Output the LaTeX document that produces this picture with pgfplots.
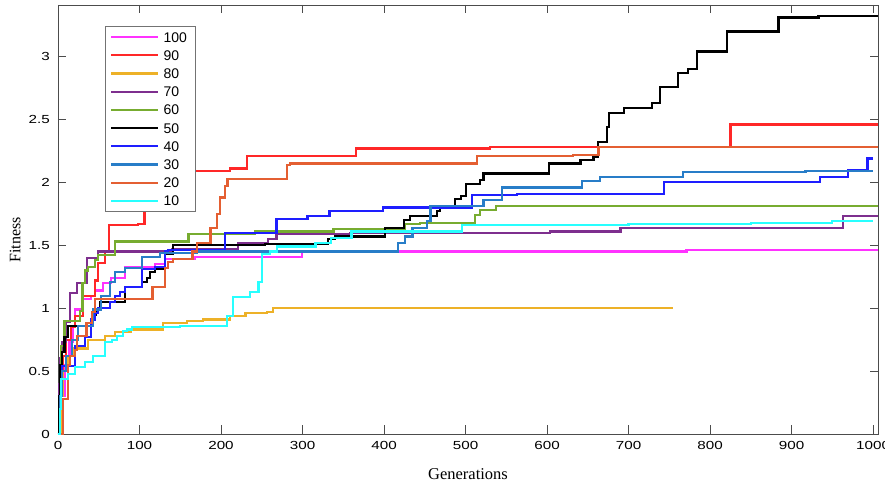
\documentclass[border=0pt]{standalone}
\usepackage{fontspec}
\usepackage{pgfplots}
\pgfplotsset{compat=1.18}
\setmainfont{Liberation Serif}
\newfontfamily\ticksans[FakeStretch=1.3]{Liberation Sans}
\newfontfamily\legsans{Liberation Sans}
\definecolor{c100}{RGB}{255,50,255}
\definecolor{c90}{RGB}{255,40,40}
\definecolor{c80}{RGB}{237,177,40}
\definecolor{c70}{RGB}{126,47,142}
\definecolor{c60}{RGB}{119,172,48}
\definecolor{c50}{RGB}{0,0,0}
\definecolor{c40}{RGB}{30,30,255}
\definecolor{c30}{RGB}{40,125,200}
\definecolor{c20}{RGB}{228,95,50}
\definecolor{c10}{RGB}{40,255,255}
\begin{document}
\begin{tikzpicture}
\useasboundingbox (-58pt,-53pt) rectangle (827pt,434pt);
\begin{axis}[
  at={(0pt,0pt)}, anchor=south west,
  scale only axis, width=820pt, height=429pt,
  xmin=0, xmax=1006, ymin=0, ymax=3.41,
  xtick={0,100,200,300,400,500,600,700,800,900,1000},
  ytick={0,0.5,1,1.5,2,2.5,3},
  tick align=inside, major tick length=8.5pt,
  axis line style={black!70, line width=0.8pt},
  every tick/.style={black!70, line width=0.8pt},
  /pgf/number format/assume math mode=true,
  /pgf/number format/1000 sep={},
  ticklabel style={font=\ticksans\fontsize{11.7}{13}\selectfont},
  xticklabel style={inner sep=0pt, yshift=-7pt, anchor=north},
  yticklabel style={inner sep=0pt, xshift=-8pt, anchor=east},
  xlabel={Generations}, ylabel={Fitness},
  xlabel style={at={(axis description cs:0.5,-0.093)}, anchor=center, font=\fontsize{16.5}{18}\selectfont},
  ylabel style={at={(axis description cs:-0.0524,0.452)}, anchor=center, font=\fontsize{16}{18}\selectfont},
  every axis plot/.append style={line width=2.2pt, const plot},
  legend image code/.code={\draw[#1] (0pt,0pt) -- (47pt,0pt);},
  legend cell align=left,
  legend style={at={(axis description cs:0.0573,0.951)}, anchor=north west,
    draw=black!55, line width=0.8pt, inner xsep=5pt, inner ysep=5.7pt,
    font=\legsans\fontsize{14}{16}\selectfont,
    column sep=4pt, row sep=8.2pt,
    nodes={inner sep=0pt, text height=10pt, text depth=0pt, text width=27pt, align=left}},
]
\addplot[c100] coordinates {(0,0)(3,0.3)(8,0.55)(14,0.73)(18,0.86)(21,0.99)(30,1.07)(40,1.10)(45,1.14)(55,1.20)(65,1.24)(82,1.33)(119,1.35)(131,1.39)(168,1.41)(299,1.45)(771,1.46)(1006,1.46)};
\addlegendentry{100}
\addplot[c90] coordinates {(0,0)(1,0.3)(3,0.5)(6,0.62)(10,0.75)(16,0.85)(21,0.94)(31,1.10)(45,1.22)(49,1.36)(58,1.45)(63,1.66)(98,1.67)(106,2.09)(211,2.11)(232,2.21)(366,2.27)(530,2.28)(825,2.46)(1006,2.46)};
\addlegendentry{90}
\addplot[c80] coordinates {(0,0)(3,0.3)(6,0.5)(12,0.62)(18,0.68)(37,0.75)(58,0.78)(70,0.81)(90,0.83)(129,0.88)(158,0.90)(178,0.91)(211,0.94)(230,0.96)(256,0.97)(264,1.00)(754,1.00)};
\addlegendentry{80}
\addplot[c70] coordinates {(0,0)(1,0.4)(3,0.6)(5,0.73)(10,0.89)(15,1.12)(23,1.20)(36,1.40)(49,1.45)(140,1.47)(221,1.52)(258,1.55)(268,1.59)(358,1.60)(604,1.61)(690,1.64)(963,1.73)(1006,1.73)};
\addlegendentry{70}
\addplot[c60] coordinates {(0,0)(2,0.4)(4,0.7)(8,0.90)(27,0.98)(30,1.20)(33,1.30)(37,1.33)(45,1.38)(49,1.42)(70,1.53)(160,1.59)(242,1.61)(338,1.63)(426,1.67)(444,1.68)(512,1.74)(518,1.78)(537,1.81)(1006,1.81)};
\addlegendentry{60}
\addplot[c50] coordinates {(0,0)(1,0.3)(3,0.55)(5,0.65)(8,0.77)(12,0.86)(43,0.95)(47,0.99)(52,1.05)(82,1.17)(103,1.21)(109,1.24)(113,1.29)(119,1.31)(131,1.43)(141,1.50)(254,1.51)(331,1.55)(340,1.57)(401,1.64)(424,1.70)(432,1.73)(465,1.77)(469,1.81)(487,1.87)(494,1.89)(501,1.99)(518,2.02)(522,2.07)(602,2.15)(641,2.18)(657,2.20)(662,2.32)(674,2.44)(676,2.55)(694,2.59)(729,2.63)(739,2.76)(761,2.87)(773,2.90)(784,3.04)(821,3.20)(884,3.31)(933,3.32)(1006,3.32)};
\addlegendentry{50}
\addplot[c40] coordinates {(0,0)(2,0.3)(5,0.54)(21,0.70)(33,0.77)(40,0.91)(45,0.96)(49,1.00)(64,1.05)(70,1.10)(76,1.13)(82,1.17)(103,1.31)(119,1.33)(131,1.45)(135,1.46)(205,1.60)(268,1.71)(306,1.73)(333,1.77)(399,1.80)(508,1.90)(563,1.91)(743,2.00)(935,2.04)(969,2.10)(993,2.19)(1000,2.19)};
\addlegendentry{40}
\addplot[c30] coordinates {(0,0)(2,0.3)(5,0.5)(10,0.62)(17,0.75)(25,0.86)(43,0.99)(53,1.10)(64,1.21)(70,1.29)(82,1.32)(103,1.41)(125,1.44)(170,1.45)(417,1.52)(426,1.57)(435,1.64)(453,1.69)(457,1.81)(522,1.86)(545,1.96)(643,2.01)(665,2.04)(767,2.08)(917,2.09)(1000,2.09)};
\addlegendentry{30}
\addplot[c20] coordinates {(0,0)(6,0.28)(12,0.55)(15,0.62)(21,0.67)(23,0.78)(35,0.88)(42,0.97)(45,1.07)(116,1.17)(131,1.32)(135,1.37)(141,1.39)(165,1.45)(171,1.52)(187,1.64)(195,1.75)(199,1.88)(205,1.97)(208,2.03)(281,2.14)(285,2.15)(514,2.21)(632,2.22)(663,2.28)(1006,2.28)};
\addlegendentry{20}
\addplot[c10] coordinates {(0,0)(2,0.2)(4,0.44)(12,0.48)(21,0.53)(33,0.57)(43,0.62)(58,0.73)(66,0.75)(72,0.78)(80,0.82)(85,0.83)(91,0.85)(150,0.86)(207,0.94)(215,1.09)(236,1.13)(246,1.21)(250,1.43)(260,1.45)(269,1.49)(316,1.52)(335,1.56)(360,1.61)(496,1.66)(700,1.67)(850,1.68)(950,1.69)(1000,1.69)};
\addlegendentry{10}
\end{axis}
\end{tikzpicture}
\end{document}
